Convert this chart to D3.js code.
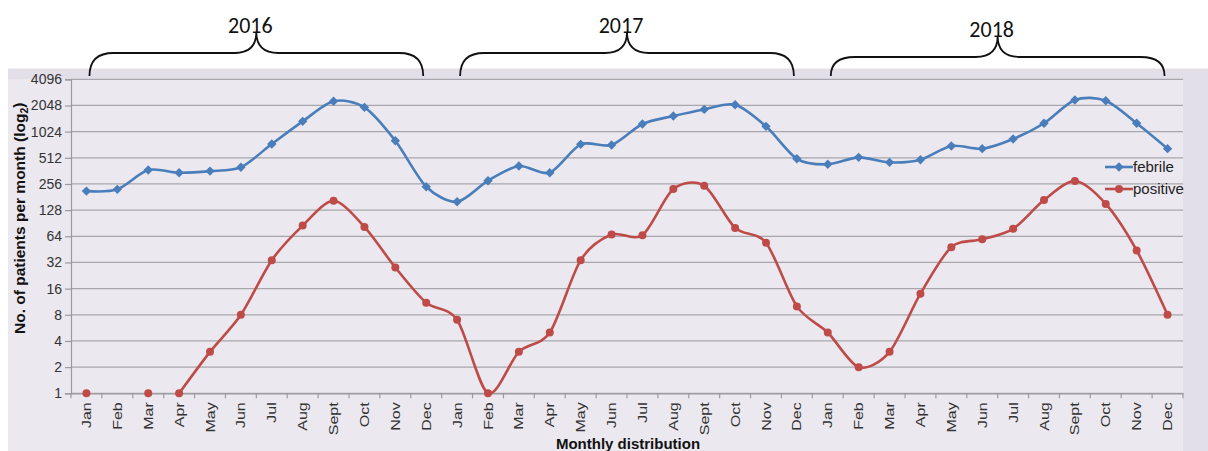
<!DOCTYPE html>
<html>
<head>
<meta charset="utf-8">
<script src="https://cdn.jsdelivr.net/npm/d3@7"></script>
<style>
  html, body { margin: 0; padding: 0; background: #ffffff; }
  svg { display: block; }
  text { font-family: "Liberation Sans", Arial, sans-serif; }
</style>
</head>
<body>
<svg id="chart" width="1208" height="451"></svg>
<script>
// Monthly febrile and malaria-positive patient counts, 2016–2018
const years = ["2016", "2017", "2018"];
const months = ["Jan", "Feb", "Mar", "Apr", "May", "Jun", "Jul", "Aug", "Sept", "Oct", "Nov", "Dec"];

const febrile = [
  212, 222, 370, 345, 360, 399, 738, 1345, 2290, 1950, 805, 238,
  160, 279, 412, 345, 731, 718, 1252, 1550, 1845, 2090, 1178, 499,
  431, 518, 454, 487, 700, 652, 843, 1278, 2370, 2320, 1278, 652
];
const positive = [
  1, null, 1, 1, 3, 8, 34, 85, 164, 82, 28, 11,
  7, 1, 3, 5, 34, 67, 66, 224, 244, 80, 54, 10,
  5, 2, 3, 14, 48, 59, 78, 167, 277, 151, 44, 8
];
// indices where the connected positive line begins a new run
const positiveRunStarts = [0, 2, 3];

const yTicks = [1, 2, 4, 8, 16, 32, 64, 128, 256, 512, 1024, 2048, 4096];

const seriesNames = ["febrile", "positive"];
const blue = "#4a7ebb", red = "#be4b48";

const svg = d3.select("#chart");
const W = 1208, H = 451;
const plot = { left: 71, right: 1183, top: 79.3, bottom: 393.3 };
const axisColor = "#9a9a9e";
const labelFont = '"Liberation Sans", Arial, sans-serif';

// category keys
const cats = [];
years.forEach(y => months.forEach(m => cats.push(y + "-" + m)));

const x = d3.scaleBand().domain(cats).range([plot.left, plot.right]).padding(0);
const y = d3.scaleLog().base(2).domain([1, 4096]).range([plot.bottom, plot.top]);
const cx = i => x(cats[i]) + x.bandwidth() / 2;

// backgrounds
svg.append("rect").attr("x", 8).attr("y", 68.5).attr("width", W - 8).attr("height", H - 68.5)
  .attr("fill", "#e3dfe9");
svg.append("rect").attr("x", 8).attr("y", plot.top).attr("width", plot.right - 8).attr("height", H - plot.top)
  .attr("fill", "#ebe8ef");

// gridlines
svg.append("g").selectAll("line").data(yTicks).join("line")
  .attr("x1", plot.left).attr("x2", plot.right)
  .attr("y1", d => y(d)).attr("y2", d => y(d))
  .attr("stroke", "#a7a7ab").attr("stroke-width", 1.2);

// y axis
const yAxis = svg.append("g").attr("transform", `translate(${plot.left},0)`)
  .call(d3.axisLeft(y).tickValues(yTicks).tickFormat(d3.format("d")).tickSize(6).tickPadding(3));
yAxis.select(".domain").attr("stroke", axisColor).attr("stroke-width", 1.2);
yAxis.selectAll(".tick line").attr("stroke", axisColor).attr("stroke-width", 1.2);
yAxis.selectAll("text").attr("font-size", 14).attr("fill", "#333")
  .style("font-family", labelFont);

// x axis: labels at category centres, ticks at category boundaries
const xAxis = svg.append("g").attr("transform", `translate(0,${plot.bottom})`)
  .call(d3.axisBottom(x).tickSize(0).tickFormat(d => d.split("-")[1]));
xAxis.select(".domain").attr("stroke", axisColor).attr("stroke-width", 1.2);
xAxis.selectAll("text")
  .attr("transform", "rotate(-90) scale(1,0.82)")
  .attr("x", -9).attr("y", 0).attr("dy", "0.35em")
  .style("text-anchor", "end")
  .attr("font-size", 16).attr("fill", "#333")
  .style("font-family", labelFont);
svg.append("g").selectAll("line").data(d3.range(cats.length + 1)).join("line")
  .attr("x1", i => plot.left + i * x.step()).attr("x2", i => plot.left + i * x.step())
  .attr("y1", plot.bottom).attr("y2", plot.bottom + 5)
  .attr("stroke", axisColor).attr("stroke-width", 1.2);

// axis titles
const yTitle = svg.append("text")
  .attr("transform", `translate(20,${(plot.top + plot.bottom) / 2 - 18}) rotate(-90)`)
  .attr("text-anchor", "middle").attr("dy", "0.35em")
  .attr("font-size", 15.5).attr("font-weight", "bold").attr("fill", "#111");
yTitle.append("tspan").text("No. of patients per month (log");
yTitle.append("tspan").attr("font-size", 10.5).attr("dy", "0.28em").text("2");
yTitle.append("tspan").attr("dy", "-0.28em").text(")");

svg.append("text")
  .attr("x", (plot.left + plot.right) / 2 + 1).attr("y", 449)
  .attr("text-anchor", "middle")
  .attr("font-size", 15).attr("font-weight", "bold").attr("fill", "#111")
  .text("Monthly distribution");

// lines
const curve = d3.curveCardinal.tension(0.15);
const febLine = d3.line().x((d, i) => cx(i)).y(d => y(d)).curve(curve);
svg.append("path").datum(febrile).attr("d", febLine)
  .attr("fill", "none").attr("stroke", blue).attr("stroke-width", 2.6);

// positive: split into connected runs
const runs = [];
positiveRunStarts.forEach((s, k) => {
  const end = k + 1 < positiveRunStarts.length ? positiveRunStarts[k + 1] : positive.length;
  const run = [];
  for (let i = s; i < end; i++) if (positive[i] != null) run.push({ i, v: positive[i] });
  if (run.length > 1) runs.push(run);
});
const posLine = d3.line().x(d => cx(d.i)).y(d => y(d.v)).curve(curve);
svg.append("g").selectAll("path").data(runs).join("path").attr("d", posLine)
  .attr("fill", "none").attr("stroke", red).attr("stroke-width", 2.6);

// markers
const diamondPath = d3.symbol().type(d3.symbolSquare).size(44)();
svg.append("g").selectAll("path").data(febrile).join("path")
  .attr("transform", (d, i) => `translate(${cx(i)},${y(d)}) rotate(45)`)
  .attr("d", diamondPath)
  .attr("fill", blue);
svg.append("g").selectAll("circle")
  .data(positive.map((v, i) => ({ v, i })).filter(d => d.v != null)).join("circle")
  .attr("cx", d => cx(d.i)).attr("cy", d => y(d.v)).attr("r", 4)
  .attr("fill", red);

// legend
const legend = svg.append("g").attr("transform", "translate(1105,167)");
seriesNames.forEach((name, k) => {
  const g = legend.append("g").attr("transform", `translate(0,${k * 22})`);
  const c = k === 0 ? blue : red;
  g.append("line").attr("x1", 0).attr("x2", 28).attr("stroke", c).attr("stroke-width", 2.6);
  if (k === 0) {
    g.append("path").attr("transform", "translate(14,0) rotate(45)")
      .attr("d", diamondPath).attr("fill", c);
  } else {
    g.append("circle").attr("cx", 14).attr("r", 4).attr("fill", c);
  }
  g.append("text").attr("x", 28).attr("dy", "0.35em").attr("font-size", 15)
    .attr("fill", "#222").text(name);
});

// year braces above the plot
const braceDrop = [0, 0, 4];
years.forEach((yr, k) => {
  const x0 = cx(k * 12) + 3, x1 = cx(k * 12 + 11) - 3, xm = (cx(k * 12) + cx(k * 12 + 11)) / 2;
  const yb = 76, yh = 53 + braceDrop[k], yt = 32 + braceDrop[k];
  const r = 24, r2 = 22;
  const p = d3.path();
  p.moveTo(x0, yb);
  p.quadraticCurveTo(x0, yh, x0 + r, yh);
  p.lineTo(xm - r2, yh);
  p.quadraticCurveTo(xm, yh, xm, yt);
  p.quadraticCurveTo(xm, yh, xm + r2, yh);
  p.lineTo(x1 - r, yh);
  p.quadraticCurveTo(x1, yh, x1, yb);
  svg.append("path").attr("d", p.toString())
    .attr("fill", "none").attr("stroke", "#111").attr("stroke-width", 1.8);
  svg.append("text").attr("x", xm - 6).attr("y", 33 + braceDrop[k])
    .attr("text-anchor", "middle").attr("font-size", 22).attr("fill", "#111")
    .style("font-family", 'Carlito, "Liberation Sans", Arial, sans-serif')
    .text(yr);
});
</script>
</body>
</html>
